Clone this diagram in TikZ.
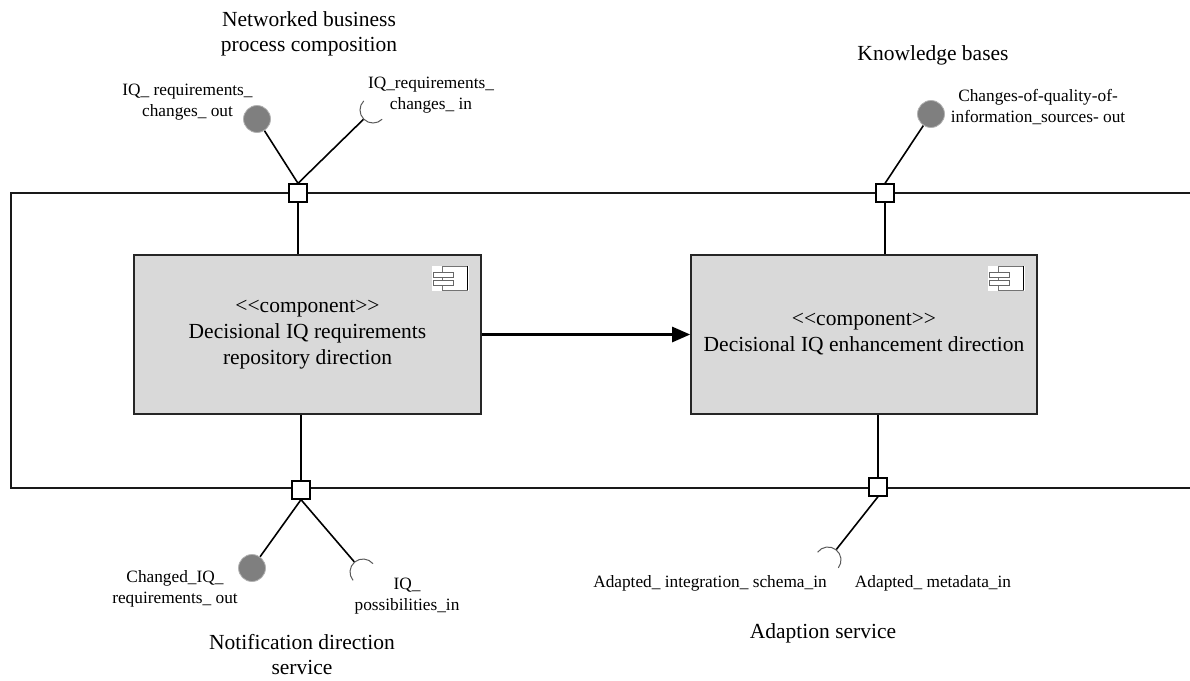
\documentclass[tikz,border=0pt]{standalone}
\usepackage{fontspec}
\setmainfont{Liberation Serif}
\usetikzlibrary{arrows.meta,calc}

\definecolor{compfill}{HTML}{D9D9D9}
\definecolor{ballfill}{HTML}{7F7F7F}

\newcommand{\stereo}[1]{\textless\kern0pt\textless #1\textgreater\kern0pt\textgreater}

\tikzset{
  frame/.style={line width=1.6pt, draw=black!90},
  comp/.style={draw=black!85, line width=1.6pt, fill=compfill,
    minimum width=347pt, minimum height=159pt, inner sep=0pt,
    align=center, font=\fontsize{21.5}{26}\selectfont},
  port/.style={draw=black, line width=1.3pt, fill=white,
    minimum size=18pt, inner sep=0pt},
  ball/.style={circle, draw=black!30, line width=0.8pt, fill=ballfill,
    minimum size=27pt, inner sep=0pt},
  sock/.style={circle, minimum size=26pt, inner sep=0pt},
  sockarc/.style={draw=black!65, line width=1pt},
  wire/.style={line width=1.6pt},
  flow/.style={line width=2.6pt, -{Triangle[length=18pt,width=15pt]}},
  lbl/.style={align=center, inner sep=0pt, font=\fontsize{17.3}{20.5}\selectfont},
  ttl/.style={align=center, inner sep=0pt, font=\fontsize{21.5}{25}\selectfont},
  compicon/.pic={
    \fill[white] (-50,12) rectangle (-13,37);
    \draw[black!55, line width=0.8pt] (-39,12) -- (-14,12);
    \draw[black!55, line width=0.8pt] (-39,12) -- (-39,36) -- (-14,36);
    \draw[black, line width=1pt] (-14,12) -- (-14,36);
    \draw[black!60, line width=0.8pt, fill=white] (-48,18) rectangle (-28,23);
    \draw[black!60, line width=0.8pt, fill=white] (-48,26) rectangle (-28,31);
  }
}

\begin{document}
\begin{tikzpicture}[x=1pt,y=-1pt]
\useasboundingbox (0,0) rectangle (1190,680);

% subsystem boundary, open towards the right
\draw[frame] (1200,193) -- (11,193) -- (11,488) -- (1200,488);

% the two components
\node[comp] (repo) at (307.5,334.5)
  {\stereo{component}\\Decisional IQ requirements\\repository direction};
\node[comp, minimum width=346pt] (enh) at (864,334.5)
  {\stereo{component}\\Decisional IQ enhancement direction};
\pic at (repo.north east) {compicon};
\pic at (enh.north east) {compicon};

\draw[flow] (repo.east) -- (enh.west);

% ports on the boundary
\node[port] (p1) at (298,193) {};
\node[port] (p2) at (885,193) {};
\node[port] (p3) at (301,490) {};
\node[port] (p4) at (878,487) {};

\draw[wire] (p1.south) -- (p1.south |- repo.north);
\draw[wire] (p2.south) -- (p2.south |- enh.north);
\draw[wire] (p3.north) -- (p3.north |- repo.south);
\draw[wire] (p4.north) -- (p4.north |- enh.south);

% provided interfaces (balls)
\node[ball] (b1) at (257,119) {};
\node[ball] (b2) at (931,114) {};
\node[ball] (b3) at (252,568) {};

% required interfaces (sockets)
\node[sock] (s1) at (373,110) {};
\node[sock] (s2) at (363,572) {};
\node[sock] (s3) at (828,560) {};

\draw[wire] (p1.north) -- (b1);
\draw[wire] (p1.north) -- (s1);
\draw[wire] (p2.north) -- (b2);
\draw[wire] (p3.south) -- (b3);
\draw[wire] (p3.south) -- (s2);
\draw[wire] (p4.south) -- (s3);

% socket arcs, angles in canvas orientation
\draw[sockarc] (s1) ++(-45:13pt) arc[start angle=-45, end angle=-225, radius=13pt];
\draw[sockarc] (s2) ++(-140:13pt) arc[start angle=-140, end angle=-320, radius=13pt];
\draw[sockarc] (s3) ++(-217:13pt) arc[start angle=-217, end angle=-397, radius=13pt];

% interface labels
\node[lbl] (l1) at (187.5,102) {IQ\_ requirements\_\\changes\_ out};
\node[lbl] (l2) at (431,95) {IQ\_requirements\_\\changes\_ in};
\node[lbl] (l3) at (1038,107) {Changes-of-quality-of-\\information\_sources- out};
\node[lbl] (l4) at (175,589) {Changed\_IQ\_\\requirements\_ out};
\node[lbl] (l5) at (407,596) {IQ\_\\possibilities\_in};
\node[lbl] (l6) at (710,583) {Adapted\_ integration\_ schema\_in};
\node[lbl] (l7) at (933,583) {Adapted\_ metadata\_in};

% partner services
\node[ttl] (t1) at (309,34) {Networked business\\process composition};
\node[ttl] (t2) at (933,55) {Knowledge bases};
\node[ttl] (t3) at (302,655) {Notification direction\\service};
\node[ttl] (t4) at (823,633) {Adaption service};
\end{tikzpicture}
\end{document}
